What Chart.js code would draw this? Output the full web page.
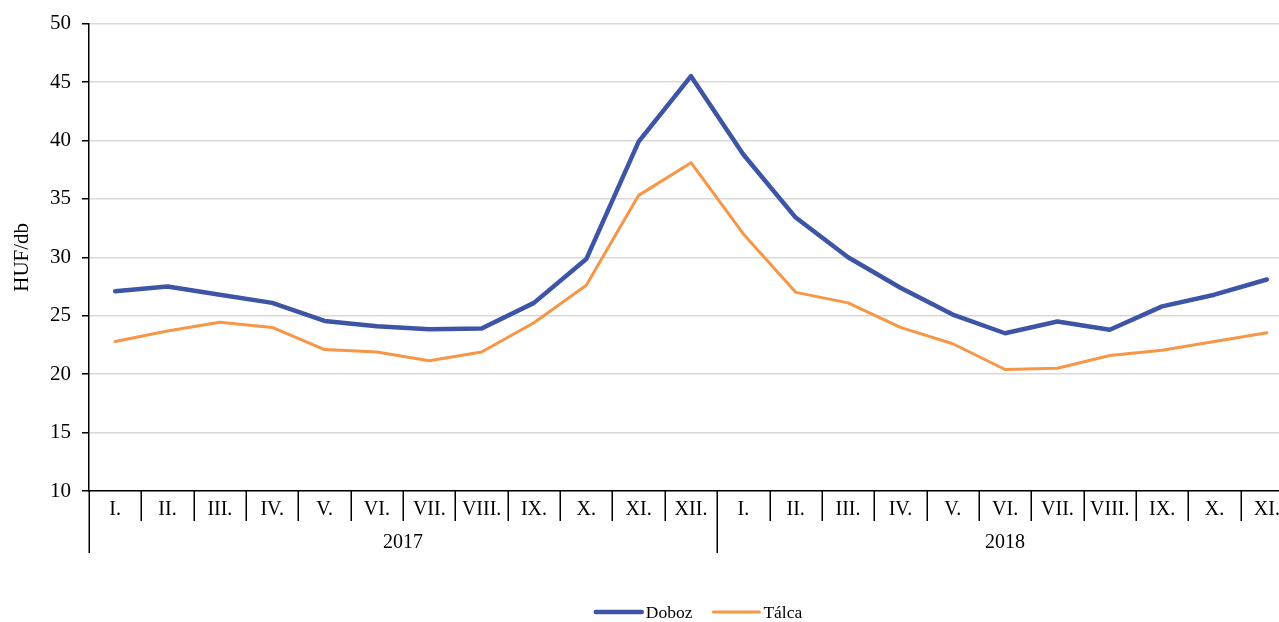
<!DOCTYPE html>
<html>
<head>
<meta charset="utf-8">
<script src="https://cdn.jsdelivr.net/npm/chart.js@4/dist/chart.umd.min.js"></script>
<style>
  html, body { margin: 0; padding: 0; overflow: hidden; background: #fff; }
  #wrap { position: absolute; left: 0; top: 0; width: 1300px; height: 622px; }
</style>
</head>
<body>
<div id="wrap"><canvas id="c"></canvas></div>
<script>
const months = ['I.','II.','III.','IV.','V.','VI.','VII.','VIII.','IX.','X.','XI.','XII.',
                'I.','II.','III.','IV.','V.','VI.','VII.','VIII.','IX.','X.','XI.'];
const years = ['2017', '2018'];
const yearSpans = [12, 11];
const doboz = [27.1, 27.5, 26.8, 26.1, 24.55, 24.1, 23.85, 23.9, 26.1, 29.85, 39.9, 45.5,
               38.8, 33.4, 30.0, 27.4, 25.1, 23.5, 24.5, 23.8, 25.8, 26.8, 28.1];
const talca = [22.8, 23.7, 24.45, 24.0, 22.1, 21.9, 21.15, 21.9, 24.4, 27.6, 35.3, 38.1,
               32.0, 27.0, 26.1, 24.0, 22.6, 20.4, 20.5, 21.6, 22.05, 22.8, 23.55];
const seriesNames = ['Doboz', 'Tálca'];
const yTicks = { min: 10, max: 50, step: 5 };
const yTitle = 'HUF/db';

const FONT = "'Liberation Serif', 'Times New Roman', serif";

const extras = {
  id: 'extras',
  afterDraw(chart) {
    const ctx = chart.ctx;
    const xs = chart.scales.x;
    const n = months.length;
    const w = (xs.right - xs.left) / n;
    const bottom = xs.top;
    ctx.save();
    ctx.strokeStyle = '#000';
    ctx.lineWidth = 1.5;
    const bounds = [0];
    let acc = 0;
    yearSpans.forEach(s => { acc += s; bounds.push(acc); });
    for (let i = 0; i <= n; i++) {
      const x = Math.round(xs.left + i * w) + 0.25;
      const long = bounds.includes(i);
      ctx.beginPath();
      ctx.moveTo(x, bottom);
      ctx.lineTo(x, bottom + (long ? 62 : 30));
      ctx.stroke();
    }
    ctx.fillStyle = '#000';
    ctx.font = '20px ' + FONT;
    ctx.textAlign = 'center';
    ctx.textBaseline = 'middle';
    let start = 0;
    years.forEach((y, k) => {
      const cx = xs.left + (start + yearSpans[k] / 2) * w;
      ctx.fillText(y, cx, bottom + 52);
      start += yearSpans[k];
    });
    ctx.font = '17.5px ' + FONT;
    ctx.textAlign = 'left';
    const lineLen = 48, gapText = 3, gapItem = 20;
    const items = chart.data.datasets.map(ds => ({
      label: ds.label, color: ds.borderColor, lw: ds.borderWidth,
      tw: ctx.measureText(ds.label).width
    }));
    let total = 0;
    items.forEach((it, i) => { total += lineLen + gapText + it.tw + (i ? gapItem : 0); });
    let lx = 698.5 - total / 2;
    const ly = 612;
    items.forEach((it, i) => {
      if (i) lx += gapItem;
      ctx.strokeStyle = it.color;
      ctx.lineWidth = it.lw;
      ctx.lineCap = 'round';
      ctx.beginPath();
      ctx.moveTo(lx + 1, ly);
      ctx.lineTo(lx + lineLen - 1, ly);
      ctx.stroke();
      lx += lineLen + gapText;
      ctx.fillStyle = '#000';
      ctx.fillText(it.label, lx, ly + 1);
      lx += it.tw;
    });
    ctx.restore();
  }
};

new Chart(document.getElementById('c'), {
  type: 'line',
  data: {
    labels: months,
    datasets: [
      { label: seriesNames[0], data: doboz, borderColor: '#3E55A5', backgroundColor: '#3E55A5',
        borderWidth: 4.5, pointRadius: 0, tension: 0, borderJoinStyle: 'round', borderCapStyle: 'round' },
      { label: seriesNames[1], data: talca, borderColor: '#F79646', backgroundColor: '#F79646',
        borderWidth: 3, pointRadius: 0, tension: 0, borderJoinStyle: 'round', borderCapStyle: 'round' }
    ]
  },
  options: {
    responsive: true,
    maintainAspectRatio: false,
    devicePixelRatio: 1,
    animation: false,
    layout: { padding: { top: 21, right: 7, bottom: 0, left: 0 } },
    plugins: { legend: { display: false }, tooltip: { enabled: false } },
    scales: {
      x: {
        type: 'category',
        offset: true,
        grid: { display: true, drawOnChartArea: false, drawTicks: false, offset: true },
        border: { display: true, color: '#000', width: 1.5 },
        ticks: { autoSkip: false, maxRotation: 0, minRotation: 0, padding: 7,
                 color: '#000', font: { family: FONT, size: 20 } },
        afterFit(s) { s.height = 131; }
      },
      y: {
        min: yTicks.min, max: yTicks.max,
        ticks: { stepSize: yTicks.step, padding: 11, color: '#000', font: { family: FONT, size: 21 } },
        grid: { color: '#d9d9d9', lineWidth: 1.5, tickColor: '#000', tickLength: 7, drawTicks: true },
        border: { display: true, color: '#000', width: 1.5 },
        title: { display: true, text: yTitle, color: '#000', padding: { top: 10, bottom: 0 },
                 font: { family: FONT, size: 21 } },
        afterFit(s) { s.width = 89; }
      }
    }
  },
  plugins: [extras]
});
</script>
</body>
</html>
